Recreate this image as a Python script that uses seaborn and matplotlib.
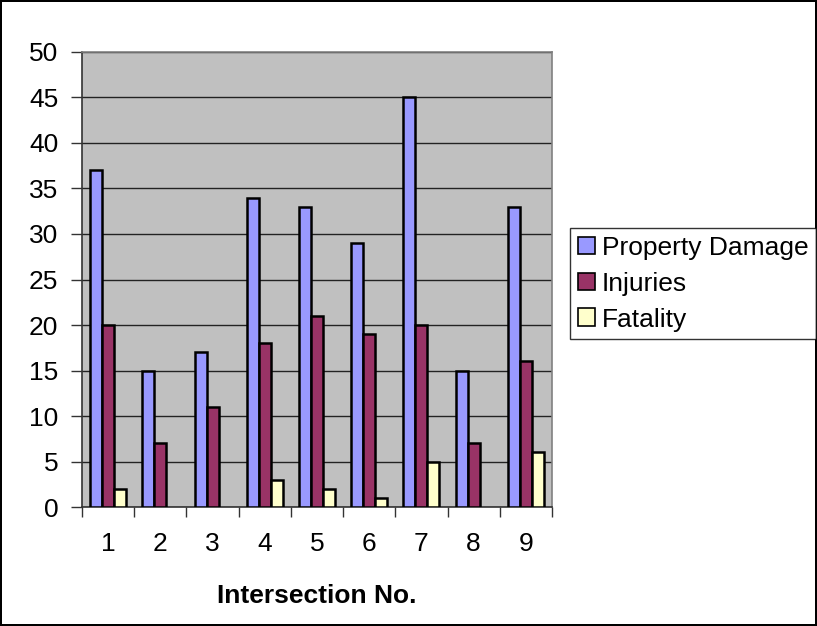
import numpy as np
import pandas as pd
import matplotlib.pyplot as plt
import seaborn as sns

# values
intersections = ['1', '2', '3', '4', '5', '6', '7', '8', '9']
property_damage = [37, 15, 17, 34, 33, 29, 45, 15, 33]
injuries = [20, 7, 11, 18, 21, 19, 20, 7, 16]
fatality = [2, 0, 0, 3, 2, 1, 5, 0, 6]
series = ['Property Damage', 'Injuries', 'Fatality']
colors = ['#9999FF', '#993366', '#FFFFCC']

df = pd.DataFrame({
    'Intersection': intersections * 3,
    'Count': property_damage + injuries + fatality,
    'Type': [s for s in series for _ in intersections],
})

sns.set_style('white')
plt.rcParams['font.family'] = ['Liberation Sans', 'DejaVu Sans']
plt.rcParams['text.color'] = 'black'
fs = 19

fig = plt.figure(figsize=(8.17, 6.26), dpi=100)
fig.patch.set_edgecolor('black')
fig.patch.set_linewidth(1.5)
ax = fig.add_axes([0.1004, 0.190, 0.5752, 0.727])
ax.set_facecolor('#C0C0C0')

sns.barplot(data=df, x='Intersection', y='Count', hue='Type', order=intersections,
            hue_order=series, palette=colors, width=0.69, edgecolor='black',
            linewidth=1.8, saturation=1, ax=ax, zorder=3)

# zero-height bars are not drawn in the original
for p in ax.patches:
    if p.get_height() == 0:
        p.set_linewidth(0)

ax.set_ylim(0, 50)
ax.set_xlim(-0.5, 8.5)
ax.set_yticks(np.arange(0, 51, 5))
ax.yaxis.grid(True, color='#222222', linewidth=1)
ax.set_axisbelow(True)
ax.tick_params(axis='y', direction='out', length=8, width=1, labelsize=fs, left=True,
               pad=9, labelcolor='black', color='#333333')
ax.tick_params(axis='x', which='major', length=0, labelsize=fs, pad=18, labelcolor='black')
ax.set_xticks(np.arange(-0.5, 9, 1), minor=True)
ax.tick_params(axis='x', which='minor', direction='out', length=7, width=1, bottom=True,
               color='#333333')

for side in ['left', 'bottom']:
    ax.spines[side].set_color('#333333')
    ax.spines[side].set_linewidth(1.2)
for side in ['top', 'right']:
    ax.spines[side].set_color('#808080')
    ax.spines[side].set_linewidth(1.2)

ax.set_ylabel('')
ax.set_xlabel('Intersection No.', fontsize=fs, fontweight='bold', labelpad=20, color='black')

ax.legend_.remove()
handles = [plt.Rectangle((0, 0), 1, 1, facecolor=c, edgecolor='black', linewidth=1.2) for c in colors]
leg = fig.legend(handles, series, loc='upper left', bbox_to_anchor=(0.698, 0.636),
                 fontsize=fs, frameon=True, fancybox=False, edgecolor='black',
                 handlelength=0.65, handleheight=0.65, handletextpad=0.25,
                 borderpad=0.3, labelspacing=0.45, borderaxespad=0)
leg.get_frame().set_linewidth(1)

fig.savefig('out.png', dpi=100)
